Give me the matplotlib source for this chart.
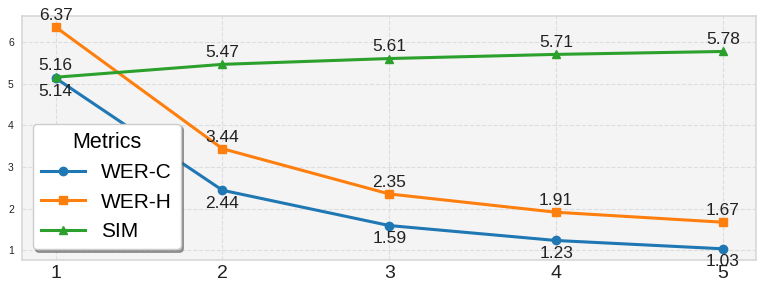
import matplotlib
matplotlib.use("Agg")
import matplotlib.pyplot as plt

plt.rcParams["font.family"] = ["Liberation Sans", "DejaVu Sans"]

steps = [1, 2, 3, 4, 5]
wer_c = [5.14, 2.44, 1.59, 1.23, 1.03]
wer_h = [6.37, 3.44, 2.35, 1.91, 1.67]
sim = [5.16, 5.47, 5.61, 5.71, 5.78]

fig = plt.figure(figsize=(7.64, 2.94), dpi=100)
ax = fig.add_axes([0.029, 0.116, 0.961, 0.830])
ax.set_facecolor("#f4f4f4")
for s in ax.spines.values():
    s.set_color("#d8d8d8")
    s.set_linewidth(1.2)

ax.plot(steps, wer_c, color="#1f77b4", marker="o", lw=2.2, ms=6, label="WER-C")
ax.plot(steps, wer_h, color="#ff7f0e", marker="s", lw=2.2, ms=6, label="WER-H")
ax.plot(steps, sim, color="#2ca02c", marker="^", lw=2.2, ms=6, label="SIM")

for x, y in zip(steps, wer_c):
    ax.annotate(f"{y:.2f}", (x, y), xytext=(0, -4), textcoords="offset points",
                ha="center", va="top", fontsize=12.5, color="#222222")
for x, y in zip(steps, wer_h):
    ax.annotate(f"{y:.2f}", (x, y), xytext=(0, 3), textcoords="offset points",
                ha="center", va="bottom", fontsize=12.5, color="#222222")
for x, y in zip(steps, sim):
    ax.annotate(f"{y:.2f}", (x, y), xytext=(0, 3), textcoords="offset points",
                ha="center", va="bottom", fontsize=12.5, color="#222222")

ax.grid(True, linestyle="--", color="#dddddd", linewidth=0.8)
ax.set_axisbelow(True)
ax.set_xticks(steps)
ax.tick_params(axis="x", labelsize=14, length=0, pad=4, colors="#222222")
ax.tick_params(axis="y", labelsize=7.5, length=0, pad=6, colors="#222222")
ax.margins(x=0.05, y=0.05)

leg = ax.legend(title="Metrics", loc="lower left", bbox_to_anchor=(0.0, 0.0),
                fontsize=15, title_fontsize=15.5, shadow=True, frameon=True,
                handlelength=2.1, labelspacing=0.5, borderpad=0.4,
                handletextpad=0.8)
leg.get_frame().set_edgecolor("#cccccc")
leg.get_frame().set_facecolor("white")

fig.savefig("out.png", dpi=100)
